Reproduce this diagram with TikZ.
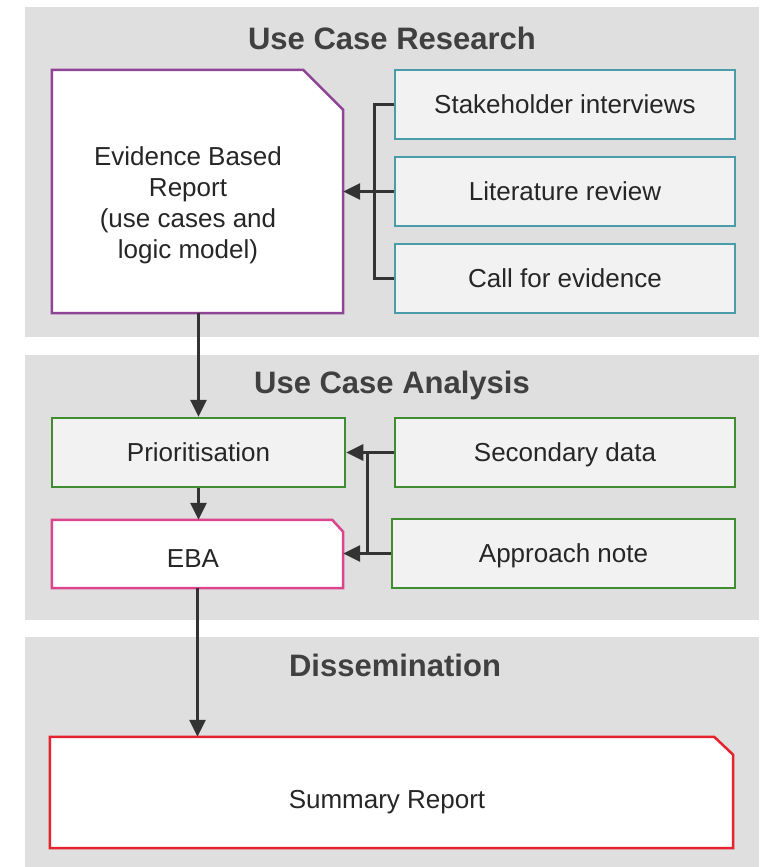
\documentclass[tikz,border=0pt]{standalone}
\usepackage{fontspec}
\setmainfont{Liberation Sans}
\usetikzlibrary{arrows.meta,calc}
\definecolor{panel}{HTML}{DFDFDF}
\definecolor{boxfill}{HTML}{F2F2F2}
\definecolor{txt}{HTML}{262626}
\definecolor{ttl}{HTML}{404040}
\definecolor{conncol}{HTML}{333333}
\definecolor{cpurple}{HTML}{8E4595}
\definecolor{cteal}{HTML}{4A9DA8}
\definecolor{cgreen}{HTML}{3F8D30}
\definecolor{cpink}{HTML}{DC458C}
\definecolor{cred}{HTML}{E5222D}
\newcommand{\bodyfont}{\fontsize{26}{31}\selectfont}
\newcommand{\titlefont}{\fontsize{31}{37}\selectfont\bfseries}
\begin{document}
\begin{tikzpicture}[x=1pt,y=-1pt,
  panelbox/.style={fill=panel},
  paneltitle/.style={font=\titlefont, text=ttl, inner sep=0pt},
  plainbox/.style={draw, line width=2.5pt, fill=boxfill, inner sep=0pt, minimum height=69pt, font=\bodyfont, text=txt, text height=20pt, text depth=3pt},
  shapebox/.style={inner sep=0pt},
  boxtext/.style={font=\bodyfont, text=txt, align=center, inner sep=0pt},
  outline/.style={line width=2.5pt, fill=white, line join=miter},
  conn/.style={draw=conncol, line width=3pt},
  arrowline/.style={conn, -{Triangle[length=17pt,width=16pt]}, color=conncol}
]
\useasboundingbox (0,0) rectangle (762,867);
\fill[white] (0,0) rectangle (762,867);
% panels
\fill[panelbox] (25,7) rectangle (759,337);
\fill[panelbox] (25,355) rectangle (759,620);
\fill[panelbox] (25,637) rectangle (759,867);
\node[paneltitle] (t1) at (392,38) {Use Case Research};
\node[paneltitle] (t2) at (392,385) {Use Case Analysis};
\node[paneltitle] (t3) at (395,665) {Dissemination};
% research section
\node[shapebox, minimum width=291pt, minimum height=243pt] (ev) at (197.5,191.5) {};
\draw[outline, draw=cpurple] (ev.north west) -- ([xshift=-40pt]ev.north east) -- ([yshift=-40pt]ev.north east) -- (ev.south east) -- (ev.south west) -- cycle;
\node[boxtext] (evt) at (188,205) {Evidence Based\\Report\\(use cases and\\logic model)};
\node[plainbox, draw=cteal, minimum width=340pt] (stake) at (565,104.5) {Stakeholder interviews};
\node[plainbox, draw=cteal, minimum width=340pt] (lit) at (565,191.5) {Literature review};
\node[plainbox, draw=cteal, minimum width=340pt] (call) at (565,278.5) {Call for evidence};
\draw[conn] (stake.west) -- ++(-19,0) |- (call.west);
\draw[arrowline] (lit.west) -- (ev.east |- lit.west);
% analysis section
\node[plainbox, draw=cgreen, minimum width=293pt] (prio) at (198.5,452.5) {Prioritisation};
\node[plainbox, draw=cgreen, minimum width=340pt] (sec) at (565,452.5) {Secondary data};
\node[plainbox, draw=cgreen, minimum width=343pt] (app) at (563.5,553.5) {Approach note};
\node[shapebox, minimum width=291pt, minimum height=68pt] (eba) at (197.5,554) {};
\draw[outline, draw=cpink] (eba.north west) -- ([xshift=-11pt]eba.north east) -- ([yshift=-12pt]eba.north east) -- (eba.south east) -- (eba.south west) -- cycle;
\node[boxtext] (ebat) at (193,559) {EBA};
\coordinate (j1) at ($(sec.west)+(-26,0)$);
\coordinate (j2) at (j1 |- app.west);
\draw[conn] (sec.west) -- (j1) -- (j2) -- (app.west);
\draw[arrowline] (j1) -- (prio.east);
\draw[arrowline] (j2) -- (eba.east |- j2);
\draw[arrowline] (ev.south -| prio.north) -- (prio.north);
\draw[arrowline] (prio.south) -- (prio.south |- eba.north);
% dissemination
\node[shapebox, minimum width=683pt, minimum height=111pt] (sum) at (391.5,792.5) {};
\draw[outline, draw=cred] (sum.north west) -- ([xshift=-19pt]sum.north east) -- ([yshift=-18pt]sum.north east) -- (sum.south east) -- (sum.south west) -- cycle;
\node[boxtext] (sumt) at (387,802) {Summary Report};
\draw[arrowline] (eba.south) -- (eba.south |- sum.north);
\end{tikzpicture}
\end{document}
